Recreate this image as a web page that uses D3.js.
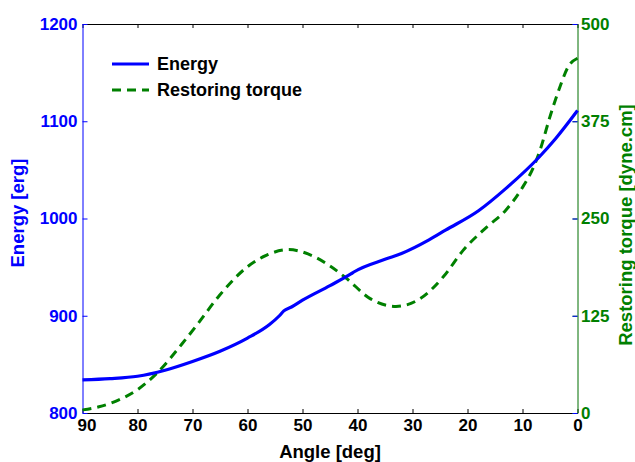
<!DOCTYPE html>
<html>
<head>
<meta charset="utf-8">
<script src="https://cdn.jsdelivr.net/npm/d3@7"></script>
<style>
  body { margin: 0; background: #fff; }
  svg { display: block; font-family: "Liberation Sans", Arial, sans-serif; font-weight: bold; }
</style>
</head>
<body>
<div id="chart"></div>
<script>
// energy curve (angle in deg, energy in erg)
const energyAngle = [90, 85, 80, 75, 70, 65, 60, 56, 54.2, 53.4, 52, 50, 45, 41.2, 40.5, 35, 32, 27, 24, 18, 13, 7, 4, 0];
const energyValue = [834, 835.3, 837.8, 844, 853, 863.5, 877, 891, 900, 905, 909, 916, 931, 943, 945.5, 958, 964, 978, 988, 1008, 1031, 1063, 1082, 1111];

// restoring torque curve (angle in deg, torque in dyne.cm)
const torqueAngle = [90, 87, 84, 80, 76.5, 72, 69, 65, 60, 56.5, 52.5, 48.5, 45, 42, 37.7, 33, 28.6, 24.4, 20.8, 16.5, 13, 10, 8, 6.8, 5, 3.2, 1.7, 0];
const torqueValue = [4, 8, 15, 30, 51, 88, 115, 152, 188, 203, 210, 203, 189, 173, 147, 137, 147, 175, 209, 239, 261, 290, 316, 338, 381, 419, 445, 456];

const xTicks = [90, 80, 70, 60, 50, 40, 30, 20, 10, 0];
const leftTicks = [800, 900, 1000, 1100, 1200];
const rightTicks = [0, 125, 250, 375, 500];
const seriesNames = ["Energy", "Restoring torque"];

const W = 635, H = 462;
const pLeft = 82.5, pRight = 577.5, pTop = 24, pBottom = 413;
const blue = "#0000ff", green = "#008000";

const svg = d3.select("#chart").append("svg").attr("width", W).attr("height", H);

const x = d3.scaleLinear().domain([90, 0]).range([pLeft, pRight]);
const yL = d3.scaleLinear().domain([800, 1200]).range([pBottom, pTop]);
const yR = d3.scaleLinear().domain([0, 500]).range([pBottom, pTop]);

// top border with inward ticks
svg.append("g")
  .attr("transform", "translate(0," + pTop + ")")
  .call(d3.axisTop(x).tickValues(xTicks).tickSize(-4).tickSizeOuter(0).tickFormat(""))
  .call(g => g.selectAll("path,line").attr("stroke", "#000"));

// bottom axis
const gx = svg.append("g")
  .attr("transform", "translate(0," + pBottom + ")")
  .call(d3.axisBottom(x).tickValues(xTicks).tickSize(-4).tickSizeOuter(0).tickPadding(5.5));
gx.selectAll("path,line").attr("stroke", "#000");
gx.selectAll("text").attr("fill", "#000").style("font-size", "17px").style("font-weight", "bold");
gx.selectAll("text").filter(d => d === 90).attr("dx", 4);

// right axis (torque)
const gr = svg.append("g")
  .attr("transform", "translate(" + pRight + ",0)")
  .call(d3.axisRight(yR).tickValues(rightTicks).tickSize(-5).tickSizeOuter(0).tickPadding(3.5).tickFormat(d3.format("d")));
gr.selectAll("path").attr("stroke", "#006e00");
gr.selectAll("line").attr("stroke", green);
gr.selectAll("text").attr("fill", green).style("font-size", "17px").style("font-weight", "bold");

// mirrored energy ticks on the right
svg.append("g")
  .attr("transform", "translate(" + pRight + ",0)")
  .call(d3.axisRight(yL).tickValues(leftTicks).tickSize(-5).tickFormat(""))
  .call(g => g.select(".domain").remove())
  .call(g => g.selectAll("line").attr("stroke", blue));

// left axis (energy)
const gl = svg.append("g")
  .attr("transform", "translate(" + pLeft + ",0)")
  .call(d3.axisLeft(yL).tickValues(leftTicks).tickSize(-5).tickSizeOuter(0).tickPadding(5).tickFormat(d3.format("d")));
gl.selectAll("path,line").attr("stroke", blue);
gl.selectAll("text").attr("fill", blue).style("font-size", "17px").style("font-weight", "bold");

// lines
const energyData = energyAngle.map((a, i) => [a, energyValue[i]]);
const torqueData = torqueAngle.map((a, i) => [a, torqueValue[i]]);

const energyLine = d3.line().x(d => x(d[0])).y(d => yL(d[1])).curve(d3.curveMonotoneX);
const torqueLine = d3.line().x(d => x(d[0])).y(d => yR(d[1])).curve(d3.curveMonotoneX);

svg.append("path")
  .datum(torqueData)
  .attr("fill", "none")
  .attr("stroke", green)
  .attr("stroke-width", 3)
  .attr("stroke-dasharray", "9,6")
  .attr("d", torqueLine);

svg.append("path")
  .datum(energyData)
  .attr("fill", "none")
  .attr("stroke", blue)
  .attr("stroke-width", 3.2)
  .attr("stroke-linejoin", "round")
  .attr("d", energyLine);

// axis titles
svg.append("text")
  .attr("x", (pLeft + pRight) / 2).attr("y", 457.5)
  .attr("text-anchor", "middle")
  .style("font-size", "18.5px")
  .attr("fill", "#000")
  .text("Angle [deg]");

svg.append("text")
  .attr("transform", "translate(23.5,213) rotate(-90)")
  .attr("text-anchor", "middle")
  .style("font-size", "18.5px")
  .attr("fill", blue)
  .text("Energy [erg]");

svg.append("text")
  .attr("transform", "translate(631.5,225) rotate(-90)")
  .attr("text-anchor", "middle")
  .style("font-size", "18.5px")
  .attr("fill", green)
  .text("Restoring torque [dyne.cm]");

// legend
const legend = svg.append("g");
seriesNames.forEach((name, i) => {
  const ly = 64 + i * 26;
  legend.append("line")
    .attr("x1", 112).attr("x2", 149).attr("y1", ly).attr("y2", ly)
    .attr("stroke", i === 0 ? blue : green)
    .attr("stroke-width", 3)
    .attr("stroke-dasharray", i === 0 ? null : "9,6");
  legend.append("text")
    .attr("x", 157).attr("y", ly + 6)
    .style("font-size", "18px")
    .attr("fill", "#000")
    .text(name);
});
</script>
</body>
</html>
